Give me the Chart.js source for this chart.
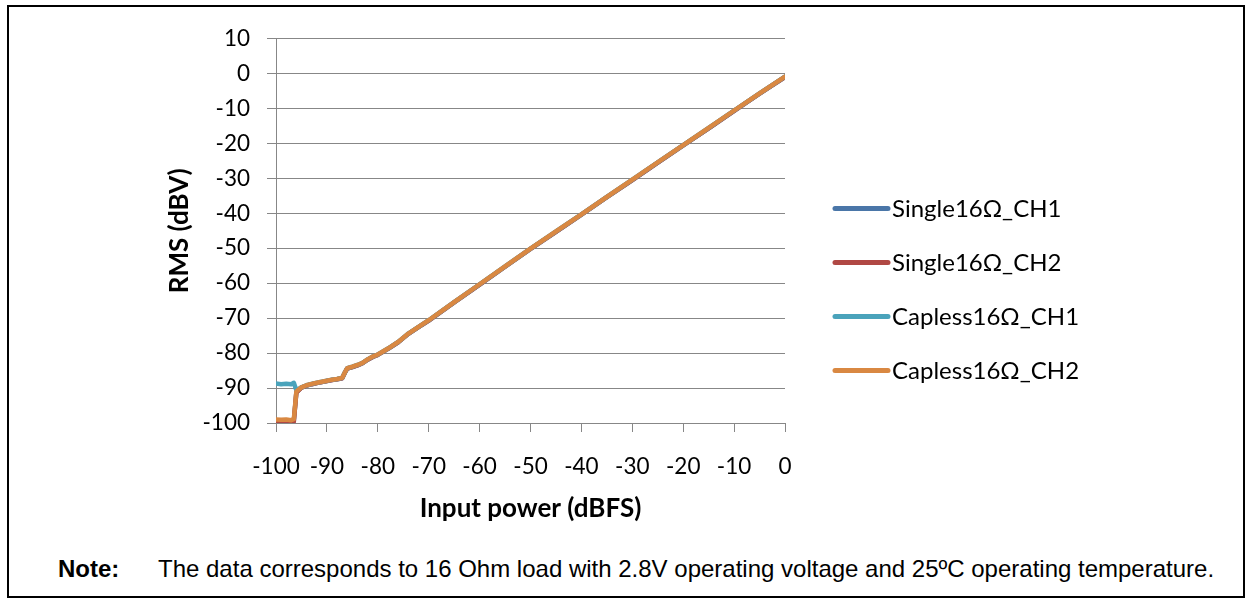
<!DOCTYPE html>
<html>
<head>
<meta charset="utf-8">
<script src="https://cdn.jsdelivr.net/npm/chart.js@4.4.1/dist/chart.umd.min.js"></script>
<style>
  body { margin: 0; background: #fff; width: 1251px; height: 605px; position: relative; overflow: hidden; }
  #frame { position: absolute; left: 7px; top: 5px; width: 1238px; height: 593px; border: 2px solid #000; box-sizing: border-box; }
  #wrap { position: absolute; left: 120px; top: 8px; width: 1125px; height: 530px; }
  #note { position: absolute; left: 58px; top: 555px; font-family: "Liberation Sans", Arial, sans-serif; font-size: 24px; color: #000; white-space: nowrap; }
  #note b { display: inline-block; width: 100px; }
</style>
</head>
<body>
<div id="frame"></div>
<div id="wrap"><canvas id="chart"></canvas></div>
<div id="note"><b>Note:</b>The data corresponds to 16 Ohm load with 2.8V operating voltage and 25ºC operating temperature.</div>

<script>
// data

const inputPower = [-100, -99, -98, -97, -96.5, -96, -95, -94, -93, -92, -91, -90, -89, -88, -87, -86.5, -86, -85, -84, -83, -82, -81, -80, -78, -76, -74, -72, -70, -65, -60, -55, -50, -45, -40, -35, -30, -25, -20, -15, -10, -5, 0];

const single16CH1 = [-99.5, -99.6, -99.5, -99.6, -99.4, -91.2, -89.9, -89.3, -88.9, -88.6, -88.3, -88.0, -87.7, -87.5, -87.2, -85.7, -84.4, -84.0, -83.5, -82.9, -81.9, -81.1, -80.5, -78.8, -76.9, -74.5, -72.6, -70.7, -65.5, -60.4, -55.3, -50.2, -45.3, -40.4, -35.4, -30.5, -25.5, -20.6, -15.7, -10.7, -5.8, -1.0];
const single16CH2 = [-99.7, -99.8, -99.7, -99.8, -99.6, -91.3, -89.9, -89.3, -88.9, -88.6, -88.3, -88.0, -87.7, -87.5, -87.2, -85.7, -84.4, -84.0, -83.5, -82.9, -81.9, -81.1, -80.5, -78.8, -76.9, -74.5, -72.6, -70.7, -65.5, -60.4, -55.3, -50.2, -45.3, -40.4, -35.4, -30.5, -25.5, -20.6, -15.7, -10.7, -5.8, -1.0];
const capless16CH1 = [-88.7, -88.9, -88.8, -88.9, -88.5, -90.6, -89.8, -89.2, -88.8, -88.5, -88.2, -87.9, -87.6, -87.4, -87.1, -85.6, -84.3, -83.9, -83.4, -82.8, -81.8, -81.0, -80.4, -78.7, -76.8, -74.4, -72.5, -70.6, -65.4, -60.3, -55.2, -50.1, -45.2, -40.3, -35.3, -30.4, -25.4, -20.5, -15.6, -10.6, -5.7, -0.9];
const capless16CH2 = [-99.0, -99.1, -99.0, -99.2, -98.9, -91.0, -89.8, -89.2, -88.8, -88.5, -88.2, -87.9, -87.6, -87.4, -87.1, -85.6, -84.3, -83.9, -83.4, -82.8, -81.8, -81.0, -80.4, -78.7, -76.8, -74.4, -72.5, -70.6, -65.4, -60.3, -55.2, -50.1, -45.2, -40.3, -35.3, -30.4, -25.4, -20.5, -15.6, -10.6, -5.7, -0.9];

const seriesNames = ["Single16Ω_CH1", "Single16Ω_CH2", "Capless16Ω_CH1", "Capless16Ω_CH2"];
const seriesColors = ["#4a76a8", "#b04844", "#4aa3bb", "#d98842"];

const xTicks = [-100, -90, -80, -70, -60, -50, -40, -30, -20, -10, 0];
const yTicks = [10, 0, -10, -20, -30, -40, -50, -60, -70, -80, -90, -100];


const toPoints = (ys) => ys.map((y, i) => ({ x: inputPower[i], y: y }));
const allSeries = [single16CH1, single16CH2, capless16CH1, capless16CH2];

const chartFont = "Lato, 'Open Sans', sans-serif";
const gridGray = "#878787";

// legend: short thick line + name, drawn right of the plot
const lineLegend = {
    id: "lineLegend",
    afterDraw(chart) {
        const { ctx, chartArea } = chart;
        const x0 = chartArea.right + 48;
        ctx.save();
        ctx.font = "24px " + chartFont;
        ctx.textBaseline = "middle";
        ctx.textAlign = "left";
        chart.data.datasets.forEach((ds, i) => {
            const y = chartArea.top + 170 + i * 54;
            ctx.strokeStyle = ds.borderColor;
            ctx.lineWidth = 5;
            ctx.lineCap = "round";
            ctx.beginPath();
            ctx.moveTo(x0 + 2, y);
            ctx.lineTo(x0 + 55, y);
            ctx.stroke();
            ctx.fillStyle = "#000";
            ctx.fillText(ds.label, x0 + 59, y + 1);
        });
        ctx.restore();
    }
};

new Chart(document.getElementById("chart"), {
    type: "line",
    data: {
        datasets: allSeries.map((s, i) => ({
            label: seriesNames[i],
            data: toPoints(s),
            borderColor: seriesColors[i],
            backgroundColor: seriesColors[i],
            borderWidth: 4.5,
            pointRadius: 0,
            tension: 0,
            borderJoinStyle: "round",
            borderCapStyle: "round",
            order: 4 - i,
        })),
    },
    options: {
        responsive: true,
        maintainAspectRatio: false,
        animation: false,
        events: [],
        layout: {
            padding: { top: 24, right: 460, bottom: 0, left: 0 }
        },
        plugins: {
            legend: { display: false },
            tooltip: { enabled: false },
        },
        scales: {
            x: {
                type: "linear",
                min: -100,
                max: 0,
                afterBuildTicks: (scale) => { scale.ticks = xTicks.map(v => ({ value: v })); },
                afterFit: (scale) => { scale.height = 115; },
                ticks: {
                    color: "#000",
                    font: { family: chartFont, size: 22.5 },
                    padding: 21,
                    maxRotation: 0,
                    autoSkip: false,
                },
                grid: { drawOnChartArea: false, drawTicks: true, tickLength: 9, color: gridGray },
                border: { color: gridGray, width: 1 },
                title: {
                    display: true,
                    text: "Input power (dBFS)",
                    color: "#000",
                    font: { family: chartFont, size: 26, weight: "bold" },
                    padding: { top: 0, bottom: 14 },
                },
            },
            y: {
                type: "linear",
                min: -100,
                max: 10,
                afterBuildTicks: (scale) => { scale.ticks = yTicks.map(v => ({ value: v })); },
                afterFit: (scale) => { scale.width = 156; },
                ticks: {
                    color: "#000",
                    font: { family: chartFont, size: 22.5 },
                    padding: 17,
                    autoSkip: false,
                },
                grid: { color: gridGray, tickLength: 9 },
                border: { color: gridGray, width: 1 },
                title: {
                    display: true,
                    text: "RMS (dBV)",
                    color: "#000",
                    font: { family: chartFont, size: 26, weight: "bold" },
                    padding: { top: 44, bottom: 0 },
                },
            },
        },
    },
    plugins: [lineLegend],
});
</script>
</body>
</html>
